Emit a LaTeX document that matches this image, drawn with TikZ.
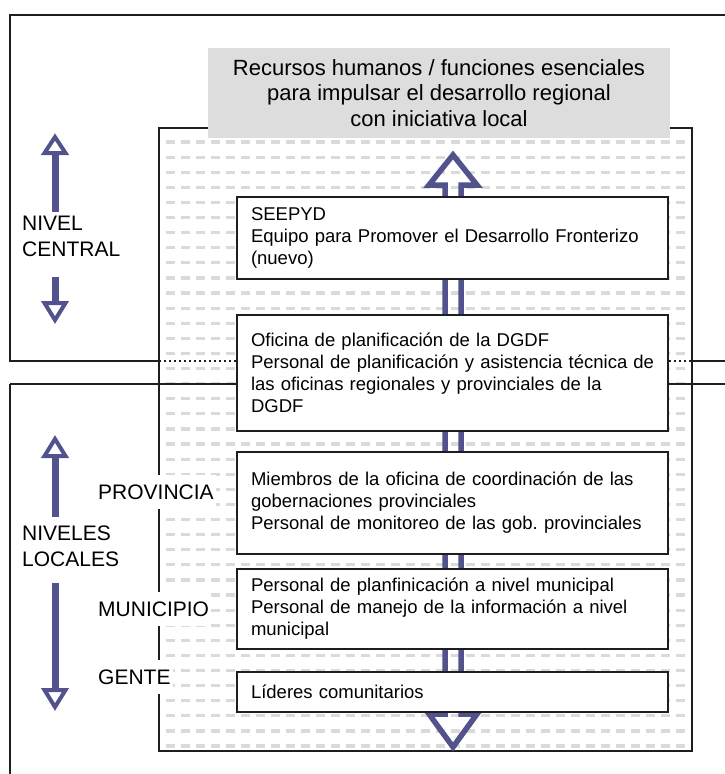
\documentclass[tikz,border=0pt]{standalone}
\usepackage{fontspec}
\setmainfont{Liberation Sans}
\frenchspacing
\definecolor{arrowc}{RGB}{82,82,140}
\definecolor{titlegray}{RGB}{221,221,221}
\definecolor{patgray}{RGB}{218,218,218}
\definecolor{linec}{RGB}{30,30,30}
\begin{document}
\begin{tikzpicture}[x=1pt,y=-1pt,
  outl/.style={line width=2pt, draw=linec},
  dotl/.style={line width=1.6pt, draw=linec, dash pattern=on 2pt off 3pt},
  patrow/.style={line width=3.2pt, draw=patgray, dash pattern=on 9pt off 6pt},
  ibox/.style={draw=linec, line width=2pt, fill=white, text width=403pt,
    inner xsep=14pt, inner ysep=0pt, align=left,
    font=\fontsize{18.5pt}{22pt}\selectfont},
  titlebox/.style={fill=titlegray, minimum width=462pt, minimum height=90pt,
    align=center, font=\fontsize{22pt}{25.5pt}\selectfont},
  lvl/.style={align=left, font=\fontsize{21pt}{26pt}\selectfont, inner sep=0pt},
  sublvl/.style={fill=white, inner xsep=2pt, inner ysep=0pt, minimum height=34pt,
    font=\fontsize{21pt}{26pt}\selectfont},
  bigarrow/.style={draw=arrowc, line width=5.5pt, line join=miter},
  lshaft/.style={draw=arrowc, line width=7pt},
  lhead/.style={draw=arrowc, line width=4pt, line join=miter, fill=white}
]
\useasboundingbox (0,0) rectangle (725,774);

% outer level boxes
\draw[outl] (725,15) -- (9.5,15) -- (9.5,361) -- (159,361);
\draw[outl] (9.5,774) -- (9.5,384);

% frame with dotted pattern
\node[draw=none, fill=white, minimum width=533pt, minimum height=623pt, inner sep=0pt] (frame) at (425.5,439.5) {};
\begin{scope}
  \clip (160,129) rectangle (691,750);
  \foreach \k in {0,...,40} {
    \draw[patrow] (165.5,{142+15.1*\k}) -- (691,{142+15.1*\k});
  }
\end{scope}
\draw[outl] (frame.north west) rectangle (frame.south east);

% separators between levels
\draw[dotl] (159,361) -- (692,361);
\draw[outl] (692,361) -- (725,361);
\draw[outl] (9.5,384) -- (725,384);

% title
\node[titlebox] (title) at (439,93) {Recursos humanos / funciones esenciales\\para impulsar el desarrollo regional\\con iniciativa local};

% big vertical double arrow
\coordinate (atop) at (453,155);
\coordinate (abot) at (453,747);
\draw[bigarrow] (atop) -- ++(24,30) -- ++(-16,0) -- ([xshift=8pt,yshift=33pt]abot)
  -- ++(16,0) -- (abot) -- ++(-24,-33) -- ++(16,0) -- ([xshift=-8pt,yshift=-30pt]atop)
  -- ++(-16,0) -- cycle;

% inner boxes
\node[ibox, minimum height=82pt] (seepyd) at (452.5,238) {SEEPYD\\\mbox{Equipo para Promover el Desarrollo Fronterizo}\\(nuevo)};
\node[ibox, minimum height=116pt] (dgdf) at (452.5,373) {Oficina de planificación de la DGDF\\\mbox{Personal de planificación y asistencia técnica de}\\\mbox{las oficinas regionales y provinciales de la}\\DGDF};
\node[ibox, minimum height=102pt] (prov) at (452.5,503) {\mbox{Miembros de la oficina de coordinación de las}\\gobernaciones provinciales\\\mbox{Personal de monitoreo de las gob. provinciales}};
\node[ibox, minimum height=80pt] (muni) at (452.5,609) {\mbox{Personal de planfinicación a nivel municipal}\\\mbox{Personal de manejo de la información a nivel}\\municipal};
\node[ibox, minimum height=40pt] (lider) at (452.5,692) {Líderes comunitarios};

% left level labels
\node[lvl, anchor=west] (central) at (22,236) {NIVEL\\CENTRAL};
\node[lvl, anchor=west] (locales) at (22,546) {NIVELES\\LOCALES};
\node[sublvl, anchor=west] (lprov) at (96,492) {PROVINCIA};
\node[sublvl, anchor=west] (lmuni) at (96,609) {MUNICIPIO};
\node[sublvl, anchor=west] (lgente) at (96,677) {GENTE};

% left arrows
\coordinate (c1a) at (55,153);
\coordinate (c1b) at (55,212);
\coordinate (c2a) at (55,277);
\coordinate (c2b) at (55,303);
\coordinate (l1a) at (55,456);
\coordinate (l1b) at (55,517);
\coordinate (l2a) at (55,583);
\coordinate (l2b) at (55,690);
\draw[lshaft] (c1a) -- (c1b);
\draw[lhead] (c1a) -- ++(10.5,0) -- (55,137) -- (44.5,153) -- cycle;
\draw[lshaft] (c2a) -- (c2b);
\draw[lhead] (c2b) -- ++(10.5,0) -- (55,320) -- (44.5,303) -- cycle;
\draw[lshaft] (l1a) -- (l1b);
\draw[lhead] (l1a) -- ++(10.5,0) -- (55,439) -- (44.5,456) -- cycle;
\draw[lshaft] (l2a) -- (l2b);
\draw[lhead] (l2b) -- ++(10.5,0) -- (55,707) -- (44.5,690) -- cycle;
\end{tikzpicture}
\end{document}
